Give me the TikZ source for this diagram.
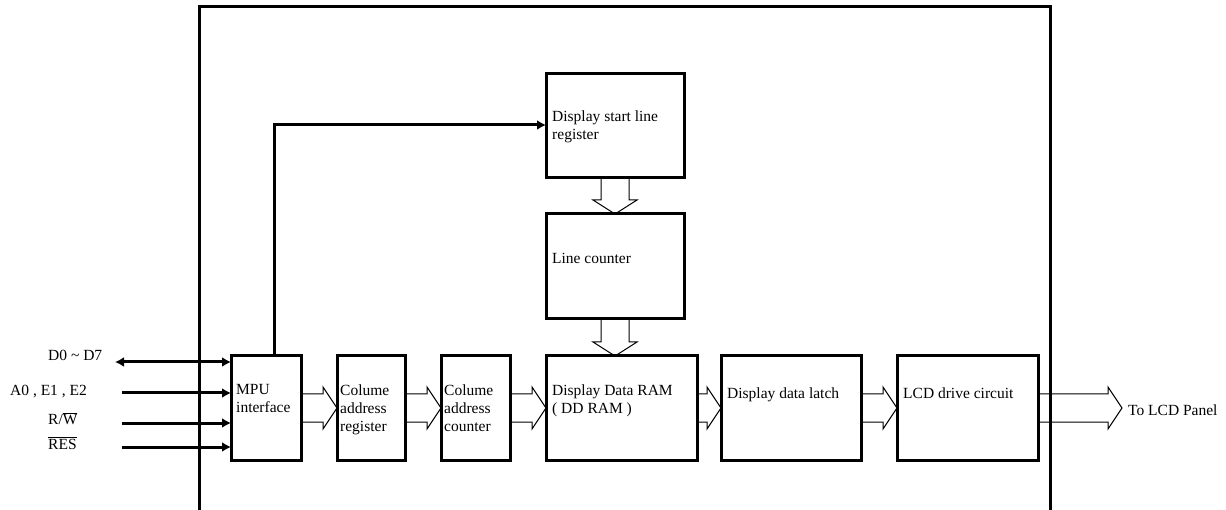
\documentclass[tikz,border=0pt]{standalone}
\usepackage{fontspec}
\setmainfont{Liberation Serif}
\usetikzlibrary{arrows.meta,calc,positioning}

% hollow bus arrows between two points at the same height / same column
\newcommand{\hbus}[2]{%
  \draw[bus] ($(#1)+(0,14)$) -- ($(#2)+(-14,14)$) -- ($(#2)+(-14,21)$) -- (#2)
    -- ($(#2)+(-14,-21)$) -- ($(#2)+(-14,-14)$) -- ($(#1)+(0,-14)$);}
\newcommand{\vbus}[2]{%
  \draw[bus] ($(#1)+(-14,0)$) -- ($(#2)+(-14,-14)$) -- ($(#2)+(-22,-14)$) -- (#2)
    -- ($(#2)+(22,-14)$) -- ($(#2)+(14,-14)$) -- ($(#1)+(14,0)$);}

\tikzset{
  blk/.style={draw, line width=3pt, inner sep=0pt, outer sep=0pt},
  lbl/.style={font=\fontsize{15.5}{18}\selectfont, inner sep=0pt, align=left, anchor=north west},
  sig/.style={line width=3pt},
  bus/.style={line width=1pt, line join=miter},
}

\begin{document}
\begin{tikzpicture}[x=1pt, y=-1pt, >={Latex[length=9pt,width=10pt]}]
\useasboundingbox (0,0) rectangle (1226,510);

% chip outline (open at the bottom)
\draw[line width=3pt] (199,510) -- (199,7) -- (1050,7) -- (1050,510);

% blocks
\node[blk, minimum width=70pt, minimum height=104pt] at (266,408) (mpu) {};
\node[blk, minimum width=68pt, minimum height=104pt] at (371,408) (car) {};
\node[blk, minimum width=69pt, minimum height=104pt] at (475.5,408) (cac) {};
\node[blk, minimum width=151pt, minimum height=104pt] at (621.5,408) (ddram) {};
\node[blk, minimum width=140pt, minimum height=104pt] at (791,408) (latch) {};
\node[blk, minimum width=141pt, minimum height=104pt] at (967.5,408) (lcd) {};
\node[blk, minimum width=138pt, minimum height=104pt] at (615,126) (dsl) {};
\node[blk, minimum width=138pt, minimum height=105pt] at (615,266.5) (lc) {};

% block texts
\node[lbl] at ($(mpu.north west)+(5,28)$) (mputxt) {MPU\\interface};
\node[lbl] at ($(car.north west)+(3,29)$) (cartxt) {Colume\\address\\register};
\node[lbl] at ($(cac.north west)+(3,29)$) (cactxt) {Colume\\address\\counter};
\node[lbl] at ($(ddram.north west)+(6,29)$) (ddramtxt) {Display Data RAM\\( DD RAM )};
\node[lbl] at ($(latch.north west)+(6,32)$) (latchtxt) {Display data latch};
\node[lbl] at ($(lcd.north west)+(6,32)$) (lcdtxt) {LCD drive circuit};
\node[lbl] at ($(dsl.north west)+(6,37)$) (dsltxt) {Display start line\\register};
\node[lbl] at ($(lc.north west)+(6,39)$) (lctxt) {Line counter};

% bus arrows
\hbus{mpu.east}{car.west}
\hbus{car.east}{cac.west}
\hbus{cac.east}{ddram.west}
\hbus{ddram.east}{latch.west}
\hbus{latch.east}{lcd.west}
\coordinate (panel) at (1122,408);
\hbus{lcd.east}{panel}
\node[lbl, anchor=west] at (1128,410) (paneltxt) {To LCD Panel};
\vbus{dsl.south}{lc.north}
\vbus{lc.south}{lc.south |- ddram.north}

% MPU to start line register
\coordinate (tap) at (274,125);
\draw[->, sig] (mpu.north -| tap) -- (tap) -- (tap -| dsl.west);

% external signals
\coordinate (d0) at (115,362);
\coordinate (a0) at (122,393);
\coordinate (rw) at (122,423);
\coordinate (res) at (122,447);
\draw[<->, sig] (d0) -- (d0 -| mpu.west);
\draw[->, sig] (a0) -- (a0 -| mpu.west);
\draw[->, sig] (rw) -- (rw -| mpu.west);
\draw[->, sig] (res) -- (res -| mpu.west);
\node[lbl, anchor=west] at (48,355) (d0txt) {D0 \textasciitilde\ D7};
\node[lbl, anchor=west] at (10,392) (a0txt) {A0 , E1 , E2};
\node[lbl, anchor=west] at (48,419) (rwtxt) {R/$\overline{\hbox{W}}$};
\node[lbl, anchor=west] at (48,443) (restxt) {$\overline{\hbox{RES}}$};
\end{tikzpicture}
\end{document}
